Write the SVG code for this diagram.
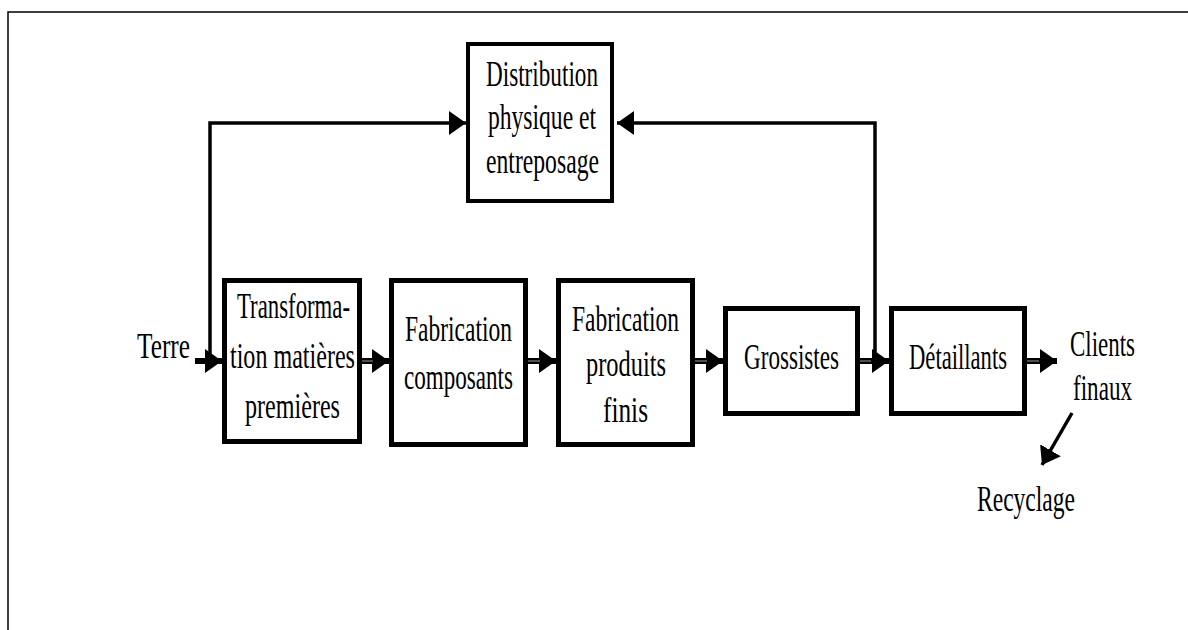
<svg xmlns="http://www.w3.org/2000/svg" width="1188" height="630" viewBox="0 0 1188 630">
  <style>
    .box { fill: #ffffff; stroke: #000000; stroke-width: 5; }
    .lbl { font-family: "Liberation Serif", "Times New Roman", serif; font-size: 35px; fill: #000000; }
    .wire { fill: none; stroke: #000000; stroke-width: 3.5; }
    .shaft { fill: none; stroke: #000000; stroke-width: 6; }
    .core { fill: none; stroke: #6a6a6a; stroke-width: 1.5; }
    .frame { fill: none; stroke: #000000; stroke-width: 1.5; }
  </style>
  <defs>
    <marker id="head" markerUnits="userSpaceOnUse" markerWidth="17" markerHeight="24" refX="17" refY="12" orient="auto">
      <path d="M0,0 L17,12 L0,24 Z" fill="#000000"/>
    </marker>
  </defs>

  <!-- page frame -->
  <path class="frame" d="M8,630 V12 H1188"/>

  <g id="connectors">
    <!-- Terre into first stage, with branch up to distribution -->
    <path class="wire" d="M210,361 V123 H466" marker-end="url(#head)"/>
    <path class="shaft" d="M195,361 H222" marker-end="url(#head)"/>
    <!-- loop back from retail to distribution -->
    <path class="wire" d="M875,361 V123 H617" marker-end="url(#head)"/>

    <!-- stage to stage -->
    <path class="shaft" d="M362,361 H389" marker-end="url(#head)"/>
    <path class="core" d="M362,361 H373"/>
    <path class="shaft" d="M528,361 H556" marker-end="url(#head)"/>
    <path class="core" d="M528,361 H540"/>
    <path class="shaft" d="M695,361 H723" marker-end="url(#head)"/>
    <path class="core" d="M695,361 H707"/>
    <path class="shaft" d="M860,361 H889" marker-end="url(#head)"/>
    <path class="core" d="M860,361 H871"/>
    <path class="shaft" d="M1027,361 H1057" marker-end="url(#head)"/>
    <path class="core" d="M1027,361 H1039"/>

    <!-- end customers to recycling -->
    <path class="wire" d="M1072,413 L1042,465" marker-end="url(#head)"/>
  </g>

  <g id="terre">
    <text class="lbl" x="137" y="358" textLength="53" lengthAdjust="spacingAndGlyphs">Terre</text>
  </g>

  <g id="distribution">
    <rect class="box" x="468" y="44" width="144" height="157" style="stroke-width:4"/>
    <text class="lbl" x="486" y="86" textLength="112" lengthAdjust="spacingAndGlyphs">Distribution</text>
    <text class="lbl" x="488" y="129" textLength="108" lengthAdjust="spacingAndGlyphs">physique et</text>
    <text class="lbl" x="486" y="173" textLength="113" lengthAdjust="spacingAndGlyphs">entreposage</text>
  </g>

  <g id="transformation">
    <rect class="box" x="224.5" y="280.5" width="135" height="161"/>
    <text class="lbl" x="237" y="318" textLength="113" lengthAdjust="spacingAndGlyphs">Transforma-</text>
    <text class="lbl" x="230" y="368" textLength="125" lengthAdjust="spacingAndGlyphs">tion matières</text>
    <text class="lbl" x="245" y="418" textLength="95" lengthAdjust="spacingAndGlyphs">premières</text>
  </g>

  <g id="composants">
    <rect class="box" x="391.5" y="280.5" width="134" height="164"/>
    <text class="lbl" x="405" y="341" textLength="107" lengthAdjust="spacingAndGlyphs">Fabrication</text>
    <text class="lbl" x="404" y="389" textLength="109" lengthAdjust="spacingAndGlyphs">composants</text>
  </g>

  <g id="produits-finis">
    <rect class="box" x="558.5" y="280.5" width="134" height="164"/>
    <text class="lbl" x="572" y="331" textLength="107" lengthAdjust="spacingAndGlyphs">Fabrication</text>
    <text class="lbl" x="586" y="376" textLength="80" lengthAdjust="spacingAndGlyphs">produits</text>
    <text class="lbl" x="603" y="422" textLength="45" lengthAdjust="spacingAndGlyphs">finis</text>
  </g>

  <g id="grossistes">
    <rect class="box" x="725.5" y="308.5" width="132" height="105"/>
    <text class="lbl" x="744" y="369" textLength="95" lengthAdjust="spacingAndGlyphs">Grossistes</text>
  </g>

  <g id="detaillants">
    <rect class="box" x="891.5" y="308.5" width="133" height="105"/>
    <text class="lbl" x="909" y="369" textLength="98" lengthAdjust="spacingAndGlyphs">Détaillants</text>
  </g>

  <g id="clients">
    <text class="lbl" x="1070" y="356" textLength="65" lengthAdjust="spacingAndGlyphs">Clients</text>
    <text class="lbl" x="1073" y="400" textLength="59" lengthAdjust="spacingAndGlyphs">finaux</text>
  </g>

  <g id="recyclage">
    <text class="lbl" x="977" y="511" textLength="98" lengthAdjust="spacingAndGlyphs">Recyclage</text>
  </g>
</svg>
